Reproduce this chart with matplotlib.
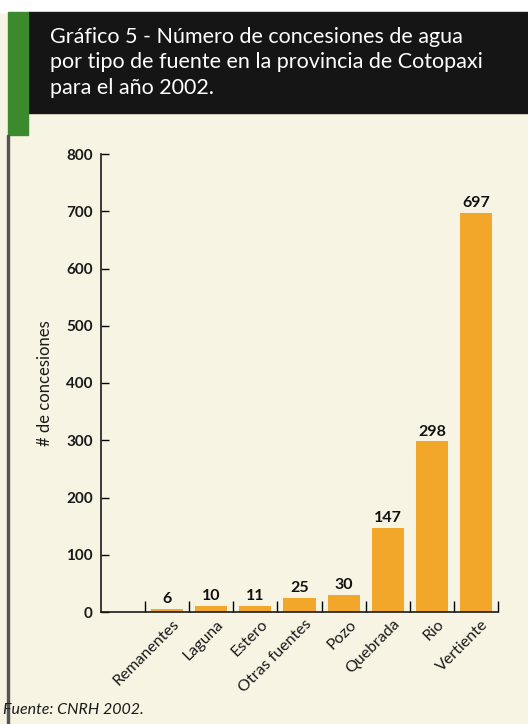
import matplotlib.pyplot as plt
from matplotlib.patches import Rectangle

# data
categories = ['Remanentes', 'Laguna', 'Estero', 'Otras fuentes', 'Pozo',
              'Quebrada', 'Rio', 'Vertiente']
concesiones = [6, 10, 11, 25, 30, 147, 298, 697]
yticks = [0, 100, 200, 300, 400, 500, 600, 700, 800]

cream = '#f8f4e4'
bar_color = '#f2a72b'
plt.rcParams['font.family'] = ['Lato', 'DejaVu Sans']

fig = plt.figure(figsize=(5.28, 7.24), dpi=100, facecolor=cream)

# header decoration (figure pixel coords converted to fractions)
W, H = 528, 724
def frac_rect(x0, y0, x1, y1, color):
    fig.patches.append(Rectangle((x0 / W, 1 - y1 / H), (x1 - x0) / W, (y1 - y0) / H,
                                 transform=fig.transFigure, color=color, zorder=0))

frac_rect(0, 0, W, 12, 'white')
frac_rect(28, 12, W, 113, '#151515')
frac_rect(8, 12, 28, 135, '#3d8a2e')
frac_rect(7, 135, 9, H, '#555555')

fig.text(50 / W, 1 - 27 / H,
         'Gráfico 5 - Número de concesiones de agua\n'
         'por tipo de fuente en la provincia de Cotopaxi\n'
         'para el año 2002.',
         color='white', fontsize=15.5, va='top', ha='left', linespacing=1.33)

ax = fig.add_axes([101 / W, 112 / H, 397 / W, 458 / H])
ax.set_facecolor('none')
x = list(range(1, len(categories) + 1))
bars = ax.bar(x, concesiones, width=0.73, color=bar_color, zorder=2)
for xi, v in zip(x, concesiones):
    ax.annotate(str(v), (xi, v), xytext=(0, 2), textcoords='offset points',
                ha='center', va='bottom', fontsize=11.5, fontweight='bold', color='#111111')

ax.set_xlim(-0.5, 8.5)
ax.set_ylim(0, 800)
ax.set_yticks(yticks)
ax.set_yticklabels([str(t) for t in yticks], fontsize=11, fontweight='bold', color='#1a1a1a')
ax.tick_params(axis='y', direction='in', length=6, width=1, pad=6)
ax.set_xticks([i + 0.5 for i in range(0, 9)])
ax.set_xticklabels([])
ax.tick_params(axis='x', direction='in', length=8, width=1)
for s in ['top', 'right']:
    ax.spines[s].set_visible(False)
for s in ['left', 'bottom']:
    ax.spines[s].set_linewidth(1.2)
    ax.spines[s].set_color('#1a1a1a')

for xi, name in zip(x, categories):
    ax.text(xi + 0.12, -9, name, rotation=45, ha='right', va='top',
            rotation_mode='anchor', fontsize=11.5, color='#1a1a1a',
            transform=ax.transData)

ax.set_ylabel('# de concesiones', fontsize=12, color='#1a1a1a', labelpad=9)

fig.text(3 / W, 1 - 710 / H, 'Fuente: CNRH 2002.', fontsize=11.5,
         style='italic', color='#1a1a1a', va='center', ha='left')

fig.savefig('out.png', dpi=100, facecolor=cream)
